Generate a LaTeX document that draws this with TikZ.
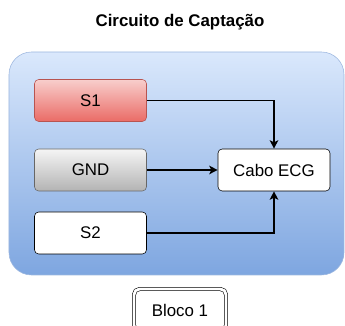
\documentclass[tikz,border=0pt]{standalone}
\usepackage{fontspec}
\setmainfont{Liberation Sans}
\usepackage{tikz}
\usetikzlibrary{arrows,arrows.meta}
\tikzset{>={Stealth[length=6pt,width=6pt,inset=1.5pt]}}
\usetikzlibrary{positioning}

\definecolor{blocoTop}{HTML}{DAE8FC}
\definecolor{blocoBot}{HTML}{7EA6E0}
\definecolor{blocoLine}{HTML}{9DB7DF}
\definecolor{redTop}{HTML}{F8CECC}
\definecolor{redBot}{HTML}{EA6B66}
\definecolor{redLine}{HTML}{B85450}
\definecolor{grayTop}{HTML}{F5F5F5}
\definecolor{grayBot}{HTML}{B3B3B3}
\definecolor{grayLine}{HTML}{666666}

\begin{document}
\begin{tikzpicture}[x=0.025cm,y=-0.025cm,
  every node/.style={font=\fontsize{12}{14}\selectfont},
  sensor/.style={draw, rounded corners=3pt, minimum width=2.8cm,
    minimum height=1.05cm, inner sep=0pt},
  fio/.style={->, line width=0.9pt},
  nome/.style={draw, double, double distance=2pt, rounded corners=4pt,
    minimum width=2.3cm, minimum height=1.05cm, fill=white}]

  \useasboundingbox (0,0) rectangle (345,326);

  % caixa azul
  \draw [draw=blocoLine, top color=blocoTop, bottom color=blocoBot,
    rounded corners=16pt] (9,52) rectangle (344,275);

  \node (titulo) at (180,22) {\bfseries Circuito de Captação};

  \node [sensor, draw=redLine, top color=redTop, bottom color=redBot] (s1) at (90.5,100.5) {S1};
  \node [sensor, draw=grayLine, top color=grayTop, bottom color=grayBot] (gnd) at (90.5,170) {GND};
  \node [sensor, fill=white] (s2) at (90.5,233) {S2};
  \node [sensor, fill=white] (cabo) at (274,170) {Cabo ECG};

  \draw [fio] (s1) -| (cabo);
  \draw [fio] (gnd) -- (cabo);
  \draw [fio] (s2) -| (cabo);

  \node [nome] (bloco) at (180,310) {Bloco 1};

\end{tikzpicture}
\end{document}
